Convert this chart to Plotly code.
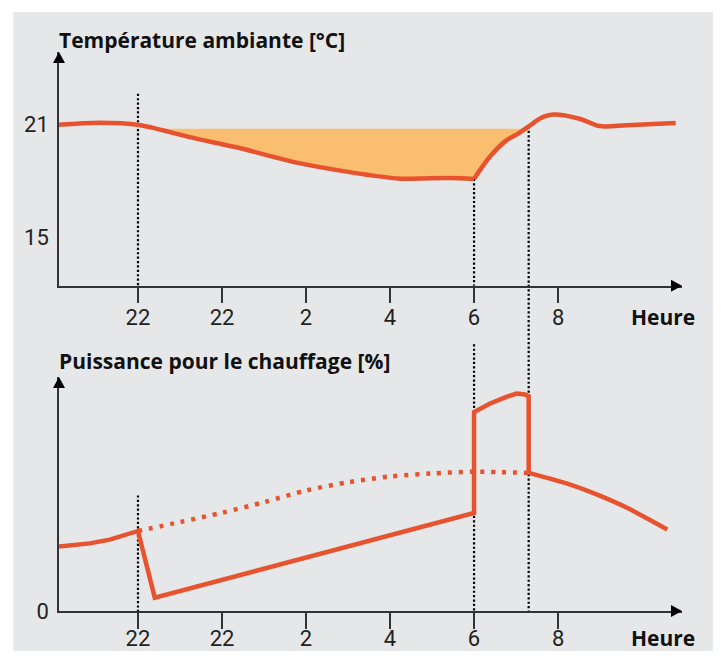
import plotly.graph_objects as go

# Heures en continu : 24 = minuit, 30 = 6 h, 32 = 8 h
tick_vals = [22, 24, 26, 28, 30, 32]
tick_text = ["22", "22", "2", "4", "6", "8"]

# Température ambiante [°C]
temp_h_soir = [20.12, 21.09, 22.0, 23.23, 24.42, 25.72, 27.04, 28.24, 28.95, 29.66, 30.0]
temp_soir = [20.98, 21.09, 20.98, 20.32, 19.74, 18.99, 18.46, 18.11, 18.14, 18.14, 18.10]
temp_h_matin = [30.0, 30.37, 30.77, 31.05, 31.30, 31.56, 31.88, 32.51, 32.99, 33.63, 34.80]
temp_matin = [18.10, 19.26, 20.15, 20.51, 20.89, 21.30, 21.52, 21.30, 20.91, 20.95, 21.07]
consigne = 20.77
abaissement = [22.4, 31.2]  # début / fin de la zone orange

# Puissance pour le chauffage [%]
puiss_h = [20.12, 20.46, 20.85, 21.33, 21.65, 22.0, 22.4, 30.0, 30.0, 30.37, 30.77,
           31.01, 31.21, 31.30, 31.30]
puiss = [27.6, 28.2, 28.9, 30.5, 32.2, 34.2, 5.7, 41.9, 85.0, 88.6, 91.5,
         92.9, 92.5, 91.8, 59.0]
puiss_fin_h = [31.30, 32.36, 32.99, 33.63, 34.10, 34.60]
puiss_fin = [59.0, 53.6, 49.3, 44.2, 39.7, 34.8]
puiss_ideal_h = [22.0, 23.0, 24.0, 25.0, 26.0, 27.0, 28.0, 29.0, 30.0, 31.3]
puiss_ideal = [34.2, 38.0, 42.0, 46.5, 51.5, 55.0, 57.5, 58.8, 59.5, 59.0]

# repères verticaux pointillés : heure, départ haut (temp.), départ haut (puissance)
reperes_h = [22.0, 30.0, 31.3]
reperes_temp = [22.63, 18.10, 20.89]
reperes_puiss = [49.4, 114.0, None]

ORANGE = "#e8532f"
REMPLI = "#f9be70"
FOND = "#e6e7e9"
AXE = "#333333"

X_RANGE = [20.12, 34.95]
T_RANGE = [12.42, 24.85]
P_RANGE = [0, 100]
DOM_T = [0.582, 1.0]
DOM_P = [0.0, 0.4186]


def to_paper(v, rng, dom):
    return dom[0] + (v - rng[0]) / (rng[1] - rng[0]) * (dom[1] - dom[0])


fig = go.Figure()

# zone d'abaissement (entre consigne et courbe)
inside = [(h, t) for h, t in zip(temp_h_soir + temp_h_matin[1:], temp_soir + temp_matin[1:])
          if abaissement[0] < h < abaissement[1]]
fig.add_trace(go.Scatter(
    x=[abaissement[0]] + [p[0] for p in inside] + [abaissement[1]],
    y=[consigne] + [p[1] for p in inside] + [consigne],
    fill="toself", fillcolor=REMPLI, mode="lines", line=dict(width=0),
    xaxis="x", yaxis="y", hoverinfo="skip",
))

for hh, tt in [(temp_h_soir, temp_soir), (temp_h_matin, temp_matin)]:
    fig.add_trace(go.Scatter(
        x=hh, y=tt, mode="lines", xaxis="x", yaxis="y",
        line=dict(color=ORANGE, width=4.5, shape="spline", smoothing=0.8),
    ))

fig.add_trace(go.Scatter(
    x=puiss_ideal_h, y=puiss_ideal, mode="lines", xaxis="x2", yaxis="y2",
    line=dict(color=ORANGE, width=4.5, dash="4px,6.9px", shape="spline", smoothing=0.8),
))
fig.add_trace(go.Scatter(
    x=puiss_h, y=puiss, mode="lines", xaxis="x2", yaxis="y2",
    line=dict(color=ORANGE, width=4.5),
))
fig.add_trace(go.Scatter(
    x=puiss_fin_h, y=puiss_fin, mode="lines", xaxis="x2", yaxis="y2",
    line=dict(color=ORANGE, width=4.5, shape="spline", smoothing=0.8),
))

shapes = [dict(type="rect", xref="paper", yref="paper", x0=-0.0734, x1=1.1,
               y0=-0.2, y1=1.0716, fillcolor=FOND, line=dict(width=0), layer="below")]

pointille = dict(color="black", width=2.2, dash="2.2px,2.2px")
for h, t, p in zip(reperes_h, reperes_temp, reperes_puiss):
    if p is None:
        shapes.append(dict(type="line", xref="x", yref="paper", x0=h, x1=h,
                           y0=to_paper(t, T_RANGE, DOM_T), y1=0, line=pointille, layer="below"))
    else:
        shapes.append(dict(type="line", xref="x", yref="paper", x0=h, x1=h,
                           y0=to_paper(t, T_RANGE, DOM_T), y1=DOM_T[0], line=pointille, layer="below"))
        shapes.append(dict(type="line", xref="x", yref="paper", x0=h, x1=h,
                           y0=to_paper(p, P_RANGE, DOM_P), y1=0, line=pointille, layer="below"))

# flèches au bout des axes
for dom in (DOM_T, DOM_P):
    shapes.append(dict(type="path", xref="paper", yref="paper", xsizemode="pixel", ysizemode="pixel",
                       xanchor=1, yanchor=dom[0], path="M -11,-6 L 0,0 L -11,6 Z",
                       fillcolor="black", line=dict(width=0)))
    shapes.append(dict(type="path", xref="paper", yref="paper", xsizemode="pixel", ysizemode="pixel",
                       xanchor=0, yanchor=dom[1], path="M -6,-11 L 0,0 L 6,-11 Z",
                       fillcolor="black", line=dict(width=0)))

tick_font = dict(family="Liberation Sans Narrow, Roboto, sans-serif", size=22, color="#222")
titre_font = dict(family="Open Sans, sans-serif", size=21, color="#111")

xax = dict(range=X_RANGE, tickvals=tick_vals, ticktext=tick_text, ticks="outside", ticklen=16,
           tickwidth=1.5, tickcolor=AXE, showline=True, linecolor=AXE, linewidth=1.5,
           showgrid=False, zeroline=False, tickfont=tick_font, domain=[0, 1],
           ticklabelstandoff=-5, automargin=False, fixedrange=True)
yax = dict(ticks="", showline=True, linecolor=AXE, linewidth=1.5, showgrid=False,
           zeroline=False, tickfont=tick_font, ticklabelstandoff=4,
           automargin=False, fixedrange=True)

annotations = [
    dict(text="<b>Température ambiante [°C]</b>", xref="paper", yref="paper", x=-0.004, y=1.0206,
         xanchor="left", yanchor="middle", showarrow=False, font=titre_font),
    dict(text="<b>Puissance pour le chauffage [%]</b>", xref="paper", yref="paper", x=-0.004, y=0.448,
         xanchor="left", yanchor="middle", showarrow=False, font=titre_font),
    dict(text="<b>Heure</b>", xref="paper", yref="paper", x=1.0236, y=0.5254,
         xanchor="right", yanchor="middle", showarrow=False, font=titre_font),
    dict(text="<b>Heure</b>", xref="paper", yref="paper", x=1.0236, y=-0.0475,
         xanchor="right", yanchor="middle", showarrow=False, font=titre_font),
]

# la page ajoute 8 px de marge : figure réduite pour tenir dans la fenêtre
fig.update_layout(
    width=705, height=643,
    margin=dict(l=51, r=31, t=44, b=40),
    paper_bgcolor="white", plot_bgcolor="rgba(0,0,0,0)",
    showlegend=False,
    xaxis=dict(xax, anchor="y"),
    yaxis=dict(yax, range=T_RANGE, domain=DOM_T, tickvals=[15, 21], anchor="x"),
    xaxis2=dict(xax, anchor="y2", ticklabelstandoff=-9),
    yaxis2=dict(yax, range=P_RANGE, domain=DOM_P, tickvals=[0], anchor="x2"),
    shapes=shapes,
    annotations=annotations,
)

fig.write_html("out.html")
